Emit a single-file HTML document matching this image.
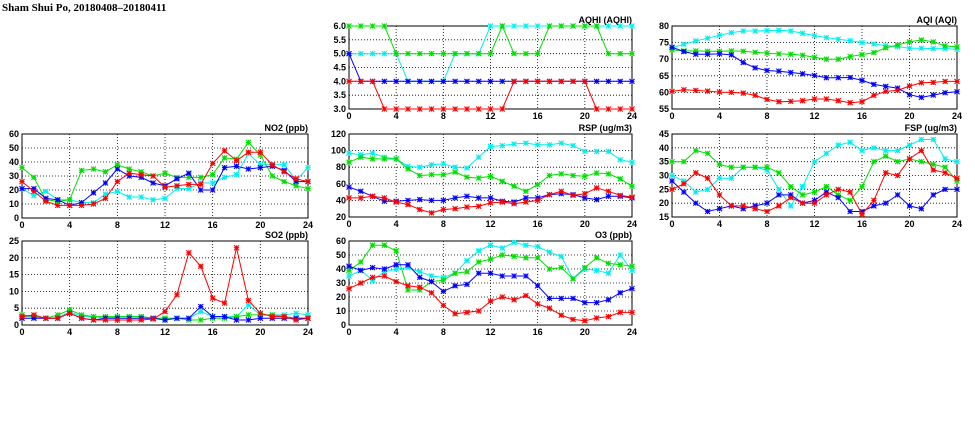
<!DOCTYPE html>
<html><head><meta charset="utf-8">
<style>
body{margin:0;background:#fff;width:975px;height:447px;overflow:hidden}
svg{display:block}
text{font-family:"Liberation Sans",sans-serif;font-weight:bold;font-size:9px;fill:#000}
</style></head>
<body>
<svg id="chart" width="975" height="447">
<text x="2" y="11" style="font-size:11px;font-family:'Liberation Serif',serif">Sham Shui Po, 20180408–20180411</text>
</svg>
<script>
const hours = [0,1,2,3,4,5,6,7,8,9,10,11,12,13,14,15,16,17,18,19,20,21,22,23,24];
const xTicks = [0,4,8,12,16,20,24];
const seriesColors = {red:"#ff0000",green:"#00e000",blue:"#0000ff",cyan:"#00f0f0"};

const no2Green=[36,29,13,12,13,34,35,33,38,35,33,30,32,29,29,29,31,43,42,54,45,30,26,23,21];
const no2Cyan=[21,16,19,13,13,11,11,17,19,15,15,13,14,21,21,25,25,29,31,46,38,38,38,27,36];
const no2Blue=[21,21,14,13,9,11,18,25,35,30,29,25,23,28,32,20,20,36,37,35,36,37,34,26,26];
const no2Red=[26,19,12,9,9,9,10,14,26,32,31,30,22,23,24,24,39,48,41,47,47,38,33,28,26];
const no2Ticks=[0,10,20,30,40,50,60];

const so2Red=[2.5,3,2,2,3.5,2,1.5,1.5,1.5,1.5,1.5,1.8,4,9,21.5,17.5,8,6.5,23,7.3,3.5,2.5,2.5,1.5,2];
const so2Green=[3,2.5,2,3,4.5,3,2.5,2.5,2.5,2.5,2.5,2,2,2,1.5,1.5,2,2,2.5,3,3,3,2.5,2,2];
const so2Cyan=[2.5,2.5,2,2,4,2.5,2.5,2,2.5,2.5,2.5,2,2,2,2,4,2.5,2.5,2.5,6,3,3,3,3.5,3];
const so2Blue=[2,2,2,2,3.5,2,1.5,2,2,2,2,2,1.5,2,2,5.5,2.5,2.5,1.5,1.5,2,2,2,2,2];
const so2Ticks=[0,5,10,15,20,25];

const aqhiGreen=[6,6,6,6,5,5,5,5,5,5,5,5,5,6,5,5,5,6,6,6,6,6,5,5,5];
const aqhiCyan=[5,5,5,5,5,4,4,4,4,5,5,5,6,6,6,6,6,6,6,6,6,6,6,6,6];
const aqhiBlue=[5,4,4,4,4,4,4,4,4,4,4,4,4,4,4,4,4,4,4,4,4,4,4,4,4];
const aqhiRed=[4,4,4,3,3,3,3,3,3,3,3,3,3,3,4,4,4,4,4,4,4,3,3,3,3];
const aqhiTicks=[3,3.5,4,4.5,5,5.5,6];

const rspCyan=[97,95,97,92,90,81,80,83,84,80,79,92,105,106,108,109,107,107,109,106,99,99,99,89,86];
const rspGreen=[86,92,90,90,90,78,70,71,71,74,68,67,69,63,57,51,59,70,72,70,69,73,72,66,57];
const rspBlue=[56,51,45,39,39,40,41,40,40,43,45,43,43,39,38,43,43,47,48,47,43,41,45,45,43];
const rspRed=[43,43,45,43,38,35,29,25,29,30,32,33,37,38,36,38,40,47,51,46,48,55,51,46,44];
const rspTicks=[20,40,60,80,100,120];

const o3Cyan=[35,39,32,38,40,41,38,35,34,37,46,53,57,55,59,57,56,52,49,33,40,39,37,50,39];
const o3Green=[39,45,57,57,53,25,25,31,32,37,38,45,47,50,49,48,48,40,41,33,41,48,44,43,42];
const o3Blue=[42,39,41,40,43,43,34,31,24,28,29,37,37,35,35,35,28,19,19,19,16,16,18,23,26];
const o3Red=[26,30,34,35,31,28,27,23,14,8,9,10,17,20,18,21,15,12,7,4,3,5,6,9,9];
const o3Ticks=[0,10,20,30,40,50,60];

const aqiCyan=[73.5,74.5,75.5,76.3,77.2,78,78.5,78.5,78.6,78.7,78.5,77.8,77.1,76.5,76,75.6,75,74.6,74.1,73.8,73.3,73.3,73.2,73.2,73];
const aqiGreen=[72.8,72.5,72.5,72.4,72.4,72.5,72.4,72.1,71.8,71.6,71.5,71.2,70.6,70,70,70.8,71.4,72,73.4,74.3,75.2,75.8,75.2,74,73.7];
const aqiBlue=[73.6,72.3,71.5,71.5,71.6,71.3,69,67.4,66.6,66.4,66,65.6,65.1,64.4,64.4,64.5,63.6,62.4,61.8,61.3,59.3,58.5,59.2,59.9,60.2];
const aqiRed=[60.3,60.8,60.6,60.4,60.1,60,59.8,59.1,57.9,57.2,57.3,57.5,58,58,57.5,56.9,57.2,59.1,60.3,60.6,61.9,62.9,63,63.3,63.3];
const aqiTicks=[55,60,65,70,75,80];

const fspCyan=[30,28,24,25,29,29,33,33,32,25,19,26,35,38,41,42,39,40,39,39,41,43,43,36,35];
const fspGreen=[35,35,39,38,34,33,33,33,33,31,26,23,24,26,23,21,26,35,37,35,36,35,34,33,28];
const fspRed=[25,27,31,29,23,19,19,18,17,19,22,20,20,23,25,24,16,21,31,30,36,39,32,31,29];
const fspBlue=[28,24,20,17,18,19,18,19,20,23,23,20,21,24,22,17,17,19,20,23,19,18,23,25,25];
const fspTicks=[15,20,25,30,35,40,45];

const NS="http://www.w3.org/2000/svg";
const svg=document.getElementById("chart");
function mk(tag,attrs,parent){const e=document.createElementNS(NS,tag);for(const k in attrs)e.setAttribute(k,attrs[k]);(parent||svg).appendChild(e);return e;}

function panel(key,title,box,ticks,decimals,series){
  const g=mk("g",{});
  
  
  const [x0,y0,x1,y1]=box;
  const lo=ticks[0],hi=ticks[ticks.length-1];
  const sx=h=>x0+(h-0)/(24-0)*(x1-x0);
  const sy=v=>y1-(v-lo)/(hi-lo)*(y1-y0);
  ticks.forEach(t=>{
    const y=sy(t);
    if(t!==lo&&t!==hi){const l=mk("line",{x1:x0,x2:x1,y1:y,y2:y,stroke:"#000","stroke-width":0.8,"stroke-dasharray":"1,2"},g);
      
      }
    const tx=mk("text",{x:x0-3,y:y+3,"text-anchor":"end"},g);tx.textContent=t.toFixed(decimals);
    
    
  });
  xTicks.forEach(t=>{
    const x=sx(t);
    if(t!==0&&t!==24){const l=mk("line",{x1:x,x2:x,y1:y0,y2:y1,stroke:"#000","stroke-width":0.8,"stroke-dasharray":"1,2"},g);
      
      }
    const tx=mk("text",{x:x,y:y1+10,"text-anchor":"middle"},g);tx.textContent=t;
    
    
  });
  const fr=mk("rect",{x:x0,y:y0,width:x1-x0,height:y1-y0,fill:"none",stroke:"#000","stroke-width":1},g);
  
  
  const tt=mk("text",{x:x1,y:y0-3,"text-anchor":"end"},g);tt.textContent=title;
  
  
  series.forEach(([name,vals])=>{
    const c=seriesColors[name];
    const pts=vals.map((v,i)=>sx(hours[i]).toFixed(1)+","+sy(v).toFixed(1)).join(" ");
    const pl=mk("polyline",{points:pts,fill:"none",stroke:c,"stroke-width":1},g);
    
    
    vals.forEach((v,i)=>{
      const x=sx(hours[i]),y=sy(v),r=2.5;
      const m=mk("path",{d:`M${x-r},${y-r}L${x+r},${y+r}M${x-r},${y+r}L${x+r},${y-r}M${x-r},${y}L${x+r},${y}M${x},${y-r}L${x},${y+r}`,stroke:c,"stroke-width":1.1},g);
      
      
    });
  });
}
panel("no2","NO2 (ppb)",[22,134,308,218],no2Ticks,0,[["cyan",no2Cyan],["green",no2Green],["blue",no2Blue],["red",no2Red]]);
panel("so2","SO2 (ppb)",[22,241,308,325],so2Ticks,0,[["cyan",so2Cyan],["green",so2Green],["blue",so2Blue],["red",so2Red]]);
panel("aqhi","AQHI (AQHI)",[349,26,632,109],aqhiTicks,1,[["cyan",aqhiCyan],["green",aqhiGreen],["blue",aqhiBlue],["red",aqhiRed]]);
panel("rsp","RSP (ug/m3)",[349,134,632,217],rspTicks,0,[["cyan",rspCyan],["green",rspGreen],["blue",rspBlue],["red",rspRed]]);
panel("o3","O3 (ppb)",[349,241,632,325],o3Ticks,0,[["cyan",o3Cyan],["green",o3Green],["blue",o3Blue],["red",o3Red]]);
panel("aqi","AQI (AQI)",[672,26,957,109],aqiTicks,0,[["cyan",aqiCyan],["green",aqiGreen],["blue",aqiBlue],["red",aqiRed]]);
panel("fsp","FSP (ug/m3)",[672,134,957,217],fspTicks,0,[["cyan",fspCyan],["green",fspGreen],["blue",fspBlue],["red",fspRed]]);
</script>
</body></html>
